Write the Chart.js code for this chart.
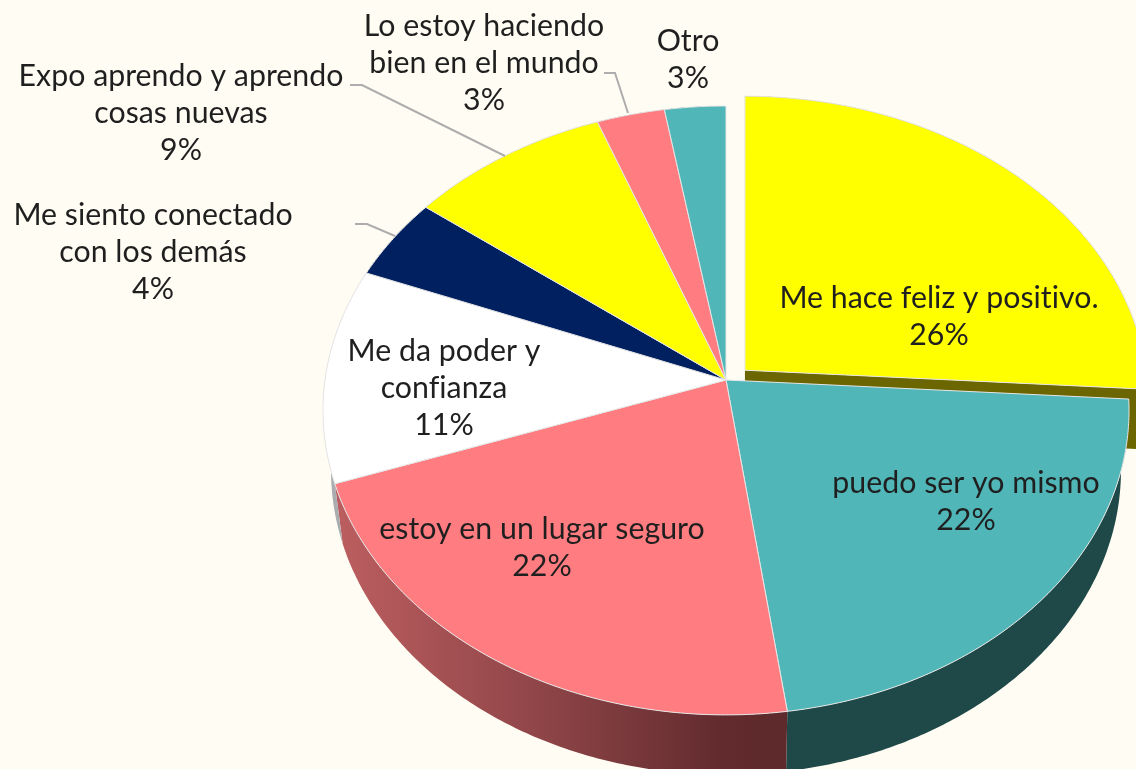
<!DOCTYPE html>
<html lang="es">
<head>
<meta charset="utf-8">
<title>Pie</title>
<script src="https://cdn.jsdelivr.net/npm/chart.js@4"></script>
<style>
html,body{margin:0;padding:0;background:#FFFDF3;overflow:hidden}
canvas{display:block}
</style>
</head>
<body>
<canvas id="c" width="1136" height="769"></canvas>
<script>
const categories = [
  ["Me hace feliz y positivo."],
  ["puedo ser yo mismo"],
  ["estoy en un lugar seguro"],
  ["Me da poder y", "confianza"],
  ["Me siento conectado", "con los demás"],
  ["Expo aprendo y aprendo", "cosas nuevas"],
  ["Lo estoy haciendo", "bien en el mundo"],
  ["Otro"]
];
const percentages = [26, 21.8, 21.8, 11.4, 4.4, 8.9, 3.0, 2.7];
const sliceColors = ["#FFFF00", "#50B6B8", "#FF7C80", "#FFFFFF", "#002060", "#FFFF00", "#FF7C80", "#50B6B8"];
const explodeOffsets = [26, 0, 0, 0, 0, 0, 0, 0];

// layout / style (not data)
const labelCenters = [[939,298],[966,483],[542,529],[444,351],[153,215],[181,76],[484,26],[688,41]];
const labelLineHeight = 37;
const leaderLines = [
  [[395,236],[367,224],[355,224]],
  [[505,156],[362,85],[350,85]],
  [[628,113],[615,73],[604,73]]
];
const view = {cx:726, cy:380, b:401, a:301.4, p:0.1, depth:60, lowerScale:0.98, explodeY:0.55};

function project(a){
  const u = Math.cos(a), v = -Math.sin(a), w = 1 + view.p*v;
  return [view.cx + view.b*u/w, view.cy - view.a*v/w];
}
function lower(p){
  return [view.cx + (p[0]-view.cx)*view.lowerScale, p[1] + view.depth];
}
function arcPoints(start, end){
  const n = Math.max(2, Math.ceil((end-start)/0.01)), pts = [];
  for(let i=0;i<=n;i++) pts.push(project(start+(end-start)*i/n));
  return pts;
}
function polyPath(ctx, pts){
  ctx.beginPath();
  pts.forEach((p,i)=> i ? ctx.lineTo(p[0],p[1]) : ctx.moveTo(p[0],p[1]));
  ctx.closePath();
}
function wallStyle(ctx, i){
  const base = sliceColors[i];
  if(base === "#FF7C80"){
    const g = ctx.createLinearGradient(337,0,790,0);
    g.addColorStop(0,"#BC5E60");
    g.addColorStop(0.45,"#8F4548");
    g.addColorStop(0.85,"#622B2E");
    g.addColorStop(1,"#5E2A2C");
    return g;
  }
  if(base === "#50B6B8") return "#1F4848";
  if(base === "#FFFF00") return "#6B6600";
  if(base === "#FFFFFF") return "#A9ADB0";
  return "#001030";
}
function drawSlice(ctx, el, i, part){
  const off = el.options.offset || 0;
  const mid = (el.startAngle + el.endAngle)/2;
  const dx = off*Math.cos(mid), dy = off*Math.sin(mid)*view.explodeY;
  const top = arcPoints(el.startAngle, el.endAngle);
  ctx.save();
  ctx.translate(dx,dy);
  if(part === "wall"){
    ctx.fillStyle = wallStyle(ctx,i);
    polyPath(ctx, top.concat(top.map(lower).reverse()));
    ctx.fill();
    if(off){
      const e = top[top.length-1];
      polyPath(ctx, [[view.cx,view.cy],e,lower(e),[view.cx,view.cy+view.depth]]);
      ctx.fill();
    }
  } else {
    polyPath(ctx, [[view.cx,view.cy]].concat(top));
    ctx.fillStyle = el.options.backgroundColor;
    ctx.fill();
    ctx.strokeStyle = el.options.borderColor;
    ctx.lineWidth = el.options.borderWidth;
    ctx.lineJoin = "round";
    ctx.stroke();
  }
  ctx.restore();
}

const pie3d = {
  id:"pie3d",
  beforeDraw(chart){
    const ctx = chart.ctx;
    ctx.save();
    ctx.fillStyle = "#FFFDF3";
    ctx.fillRect(0,0,chart.width,chart.height);
    ctx.restore();
  },
  beforeDatasetsDraw(chart){
    const ctx = chart.ctx, arcs = chart.getDatasetMeta(0).data;
    const idx = arcs.map((_,i)=>i);
    const exploded = idx.filter(i=>arcs[i].options.offset);
    const rest = idx.filter(i=>!arcs[i].options.offset);
    exploded.forEach(i=>{drawSlice(ctx,arcs[i],i,"wall");drawSlice(ctx,arcs[i],i,"top");});
    rest.forEach(i=>drawSlice(ctx,arcs[i],i,"wall"));
    rest.forEach(i=>drawSlice(ctx,arcs[i],i,"top"));
    return false;
  },
  afterDraw(chart){
    const ctx = chart.ctx;
    ctx.save();
    ctx.strokeStyle = "#ADADAD";
    ctx.lineWidth = 2;
    leaderLines.forEach(l=>{
      ctx.beginPath();
      l.forEach((p,i)=> i ? ctx.lineTo(p[0],p[1]) : ctx.moveTo(p[0],p[1]));
      ctx.stroke();
    });
    ctx.font = "30.3px Lato";
    ctx.letterSpacing = "0.01px";
    ctx.fillStyle = "#1F1F1F";
    ctx.textAlign = "center";
    ctx.textBaseline = "middle";
    chart.data.labels.forEach((label,i)=>{
      const lines = label.concat([Math.round(chart.data.datasets[0].data[i]) + "%"]);
      lines.forEach((t,j)=>ctx.fillText(t, labelCenters[i][0], labelCenters[i][1] + j*labelLineHeight));
    });
    ctx.restore();
  }
};

new Chart(document.getElementById("c"), {
  type:"pie",
  data:{
    labels:categories,
    datasets:[{
      data:percentages,
      backgroundColor:sliceColors,
      borderColor:"#E6E6E6",
      borderWidth:1,
      offset:explodeOffsets
    }]
  },
  options:{
    responsive:false,
    animation:false,
    events:[],
    plugins:{legend:{display:false},tooltip:{enabled:false}}
  },
  plugins:[pie3d]
});
</script>
</body>
</html>
